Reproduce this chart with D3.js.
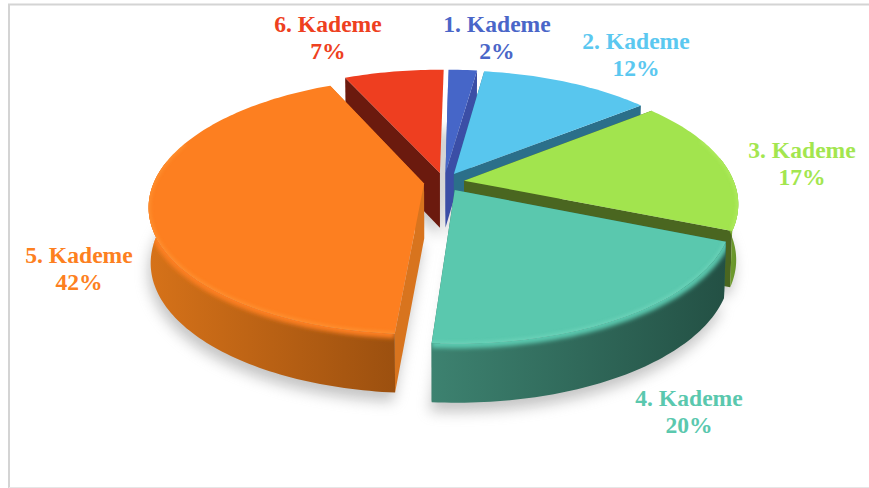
<!DOCTYPE html>
<html><head><meta charset="utf-8">
<script src="https://cdnjs.cloudflare.com/ajax/libs/d3/7.8.5/d3.min.js"></script>
<style>html,body{margin:0;padding:0;background:#fff}svg{display:block}</style>
</head><body><svg id="c" width="869" height="488"></svg>
<script>
const categories = ["1. Kademe","2. Kademe","3. Kademe","4. Kademe","5. Kademe","6. Kademe"];
const percents = [2,12,17,20,42,7];
const topColors = ["#4666c8","#58c6ee","#a2e44e","#5ac8ae","#fd7f20","#ee3e20"];
const labelColors = ["#4a66c8","#5bc8f0","#a3e64f","#5ac8ae","#fd8020","#ee4020"];
const cutColors = ["#3b4ea6","#2b6f8a","#4a6620","#2f6e5c","#d8741e","#6b1a0e"];
const rimLeft = ["#3b4ea6","#2b6f8a","#7fae33","#3d8270","#d67219","#7a2010"];
const rimRight = ["#3b4ea6","#2b6f8a","#64902a","#235044","#9c500f","#7a2010"];
const highlightColors = ["#5a7ad8","#74d4f4","#b4ee66","#74d8be","#ff9a38","#f55a38"];
const labelCenters = [[497,24],[636,41],[802,150],[689,398],[79,255],[328,24]];
const drawOrder = [5,0,1,2,3,4];

const W=869,H=488, cx=444, cy=182, A=270, B=124, k=0.173, explode=0.075, depth=55;
const startAngle = 0.8*Math.PI/180;
const svg=d3.select("#c");
const defs=svg.append("defs");
const blur=(id,s)=>defs.append("filter").attr("id",id).attr("x","-20%").attr("y","-20%").attr("width","140%").attr("height","140%")
  .append("feGaussianBlur").attr("stdDeviation",s);
blur("sh",7);blur("soft",2.2);blur("hl",1.6);

// frame
const frame=svg.append("g").attr("stroke","#d4d4d4").attr("stroke-width",2).attr("fill","none");
frame.append("path").attr("d",`M869 4.5H9V488`);
frame.append("path").attr("d",`M9 487.5H869`).attr("stroke-width",1).attr("stroke","#e6e6e6");

const pie=d3.pie().sort(null).startAngle(startAngle).endAngle(startAngle+2*Math.PI);
const arcs=pie(percents);
const project=(X,Y)=>{const w=1-k*Y;return [cx+A*X/w, cy+B*Y/w];};
const lower=(p,w)=>[cx+(p[0]-cx)*0.993, p[1]+depth/Math.pow(w,0.35)];
const line=d3.line();

const geom=arcs.map(a=>{
  const mid=(a.startAngle+a.endAngle)/2;
  const ox=explode*Math.sin(mid), oy=-explode*Math.cos(mid);
  const n=Math.max(6,Math.round((a.endAngle-a.startAngle)*50));
  const ts=d3.range(n+1).map(i=>a.startAngle+(a.endAngle-a.startAngle)*i/n);
  const top=ts.map(t=>project(ox+Math.sin(t),oy-Math.cos(t)));
  const bot=ts.map((t,j)=>lower(top[j],1-k*(oy-Math.cos(t))));
  const apexT=project(ox,oy);
  return {ts,ox,oy,top,bot,apexT,apexB:lower(apexT,1-k*oy)};
});

// soft shadow under the whole pie
const shadow=svg.append("g").attr("filter","url(#sh)").attr("transform","translate(-2,9)").attr("fill","#8a8a8a").attr("opacity",0.5);
geom.forEach(g=>{
  shadow.append("path").attr("d",line([g.apexB,...g.bot])+"Z");
});

const chart=svg.append("g");
drawOrder.forEach(i=>{
  const g=geom[i], s=chart.append("g");
  const n=g.top.length-1;
  // cut faces (the last slice's closing face points away from the viewer)
  s.append("path").attr("d",line([g.apexT,g.top[0],g.bot[0],g.apexB])+"Z").attr("fill",cutColors[i]);
  if(i!==percents.length-1) s.append("path").attr("d",line([g.apexT,g.top[n],g.bot[n],g.apexB])+"Z").attr("fill",cutColors[i]);
  // outer wall gradient, only where the rim faces the viewer
  const vis=g.ts.map((t,j)=>j).filter(j=>Math.cos(g.ts[j])<0.2);
  if(vis.length>1){
    const vTop=vis.map(j=>g.top[j]), vBot=vis.map(j=>g.bot[j]);
    const xs=d3.extent(vTop,p=>p[0]);
    const gid="rim"+i;
    const lg=defs.append("linearGradient").attr("id",gid).attr("gradientUnits","userSpaceOnUse")
      .attr("x1",xs[0]).attr("x2",xs[1]).attr("y1",0).attr("y2",0);
    lg.append("stop").attr("offset",0).attr("stop-color",rimLeft[i]);
    lg.append("stop").attr("offset",1).attr("stop-color",rimRight[i]);
    const wallPts=[...vTop,...vBot.slice().reverse()];
    s.append("path").attr("d",line(wallPts)+"Z").attr("fill",`url(#${gid})`);
    // soft transition from surface into wall
    defs.append("clipPath").attr("id","wc"+i).append("path").attr("d",line(wallPts)+"Z");
    s.append("g").attr("clip-path",`url(#wc${i})`)
     .append("path").attr("d",line(vTop)).attr("fill","none").attr("stroke",topColors[i]).attr("stroke-width",9).attr("filter","url(#soft)");
  }
  // top surface
  const topPts=[g.apexT,...g.top];
  s.append("path").attr("d",line(topPts)+"Z").attr("fill",topColors[i]);
  // bevel highlight along the front rim
  const front=g.top.filter((p,j)=>Math.cos(g.ts[j])<0.35);
  if(front.length>1){
    defs.append("clipPath").attr("id","tc"+i).append("path").attr("d",line(topPts)+"Z");
    s.append("g").attr("clip-path",`url(#tc${i})`)
     .append("path").attr("d",line(front)).attr("fill","none").attr("stroke",highlightColors[i]).attr("stroke-width",5).attr("opacity",0.5).attr("filter","url(#hl)");
  }
});

// labels
const labels=svg.append("g").attr("text-anchor","middle").attr("font-family","'Liberation Serif',serif").attr("font-weight","bold").attr("font-size",23.6);
categories.forEach((c,i)=>{
  const [x,y]=labelCenters[i];
  const t=labels.append("text").attr("fill",labelColors[i]);
  t.append("tspan").attr("x",x).attr("y",y+8).text(c);
  t.append("tspan").attr("x",x).attr("y",y+35).text(percents[i]+"%");
});
</script></body></html>
